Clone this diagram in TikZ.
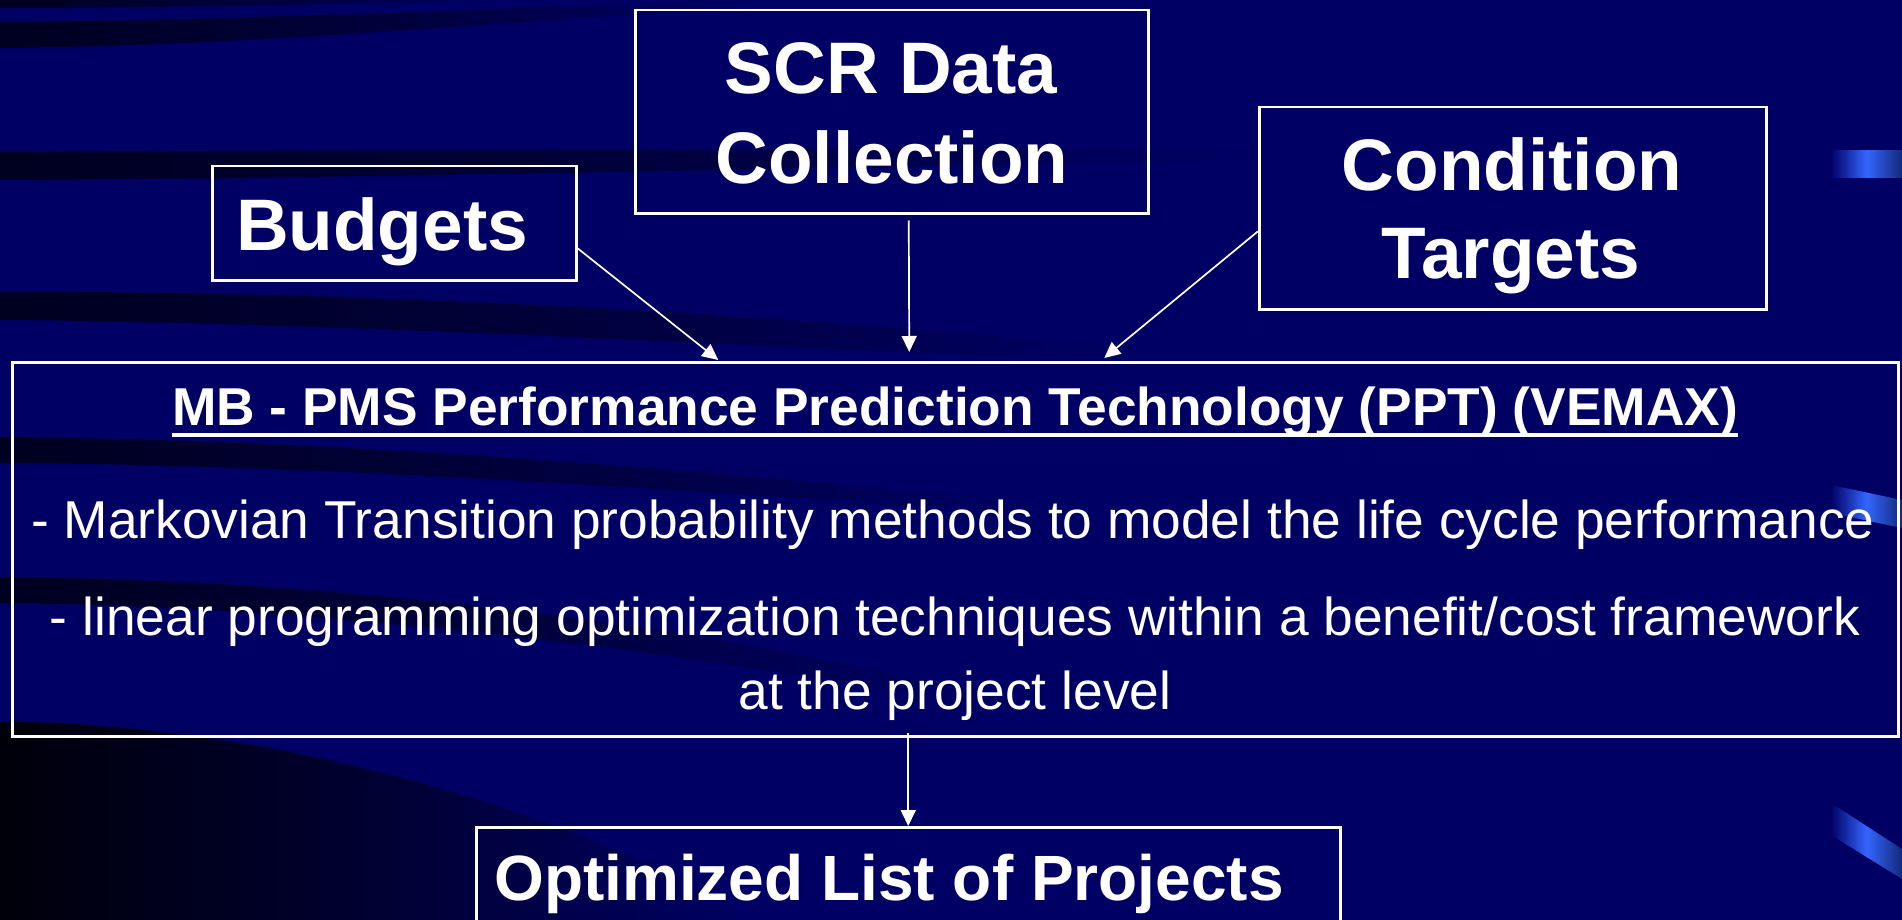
\documentclass[tikz,border=0pt]{standalone}
\usepackage{fontspec}
\setmainfont{Liberation Sans}
\usetikzlibrary{arrows.meta,calc}
\definecolor{navy}{RGB}{0,0,100}
\definecolor{band}{RGB}{0,0,32}
\definecolor{deep}{RGB}{0,0,10}
\definecolor{brblue}{RGB}{51,102,255}
\begin{document}
\begin{tikzpicture}[x=1pt,y=-1pt,
  box/.style={draw=white, line width=2.5pt, inner sep=0pt, anchor=north west},
  lbl/.style={text=white, font=\fontsize{73}{88}\selectfont\bfseries, anchor=base, inner sep=0pt},
  olbl/.style={text=white, font=\fontsize{64}{76}\selectfont\bfseries, anchor=base, inner sep=0pt},
  ttl/.style={text=white, font=\fontsize{53.3}{64}\selectfont\bfseries, anchor=base, inner sep=0pt},
  txt/.style={text=white, font=\fontsize{53.3}{64}\selectfont, anchor=base, inner sep=0pt},
  arr/.style={draw=white, line width=1.7pt, -{Triangle[length=16pt,width=15pt]}},
  bandfill/.style={left color=band, right color=navy, middle color=band!60!navy, draw=none},
  deepfill/.style={left color=deep, right color=navy, middle color=deep!55!navy, draw=none},
  glint/.style={left color=navy, right color=band!60!brblue, middle color=brblue, draw=none}]
\useasboundingbox (0,0) rectangle (1902,920);
\clip (0,0) rectangle (1902,920);
% background
\fill[navy] (0,0) rectangle (1902,920);
\path[bandfill] (0,0) -- (520,0) .. controls (320,5) and (120,8) .. (0,8) -- cycle;
\path[bandfill] (0,22) .. controls (250,20) and (500,8) .. (760,0) -- (760,6) .. controls (500,22) and (250,46) .. (0,48) -- cycle;
\path[bandfill] (0,152) .. controls (400,150) and (900,148) .. (1260,150) -- (1260,160) .. controls (900,166) and (400,178) .. (0,180) -- cycle;
\path[bandfill] (0,292) .. controls (350,290) and (800,315) .. (1150,350) -- (1150,362) .. controls (800,350) and (350,322) .. (0,320) -- cycle;
\path[bandfill] (0,437) .. controls (350,440) and (700,470) .. (1050,505) -- (1050,515) .. controls (700,492) and (350,465) .. (0,463) -- cycle;
\path[bandfill] (0,577) .. controls (300,578) and (700,620) .. (1000,700) -- (1000,712) .. controls (700,650) and (300,605) .. (0,603) -- cycle;
\path[deepfill] (0,722) .. controls (250,722) and (550,800) .. (760,920) -- (0,920) -- cycle;
% right glints
\path[glint] (1831,151) rectangle (1902,178);
\path[glint] (1831,485) -- (1902,500) -- (1902,528) -- (1831,513) -- cycle;
\path[glint] (1831,803) -- (1902,849) -- (1902,879) -- (1831,835) -- cycle;
% boxes
\node[box, minimum width=364, minimum height=114] (bud) at (211,165) {};
\node[box, minimum width=513, minimum height=203] (scr) at (634,9) {};
\node[box, minimum width=507, minimum height=202] (cond) at (1258,106) {};
\node[box, minimum width=1886, minimum height=374] (ppt) at (11,361) {};
\node[box, minimum width=864, minimum height=150] (opt) at (475,826) {};
% labels
\node[lbl] (budT) at (382,250) {Budgets};
\node[lbl] (scrA) at (891,94) {SCR Data};
\node[lbl] (scrB) at (892,183) {Collection};
\node[lbl] (condA) at (1512,190) {Condition};
\node[lbl] (condB) at (1511,278) {Targets};
\node[ttl] (title) at (955,425) {MB - PMS Performance Prediction Technology (PPT) (VEMAX)};
\draw[white, line width=4pt] ([yshift=-9.5pt]title.base west) -- ([yshift=-9.5pt]title.base east);
\node[txt] (lineA) at (953,538) {- Markovian Transition probability methods to model the life cycle performance};
\node[txt] (lineB) at (955,635) {- linear programming optimization techniques within a benefit/cost framework};
\node[txt] (lineC) at (955,709) {at the project level};
\node[olbl] (optT) at (889,900) {Optimized List of Projects};
% connectors
\draw[arr] ([yshift=-25pt]bud.east) -- ([xshift=-237pt,yshift=1pt]ppt.north);
\draw[arr] ([xshift=17pt,yshift=-6pt]scr.south) -- ([xshift=-46pt,yshift=9pt]ppt.north);
\draw[arr] ([yshift=-23pt]cond.west) -- ([xshift=149pt,yshift=3pt]ppt.north);
\draw[arr] ([xshift=-47pt,yshift=5pt]ppt.south) -- (opt.north);
\end{tikzpicture}
\end{document}
